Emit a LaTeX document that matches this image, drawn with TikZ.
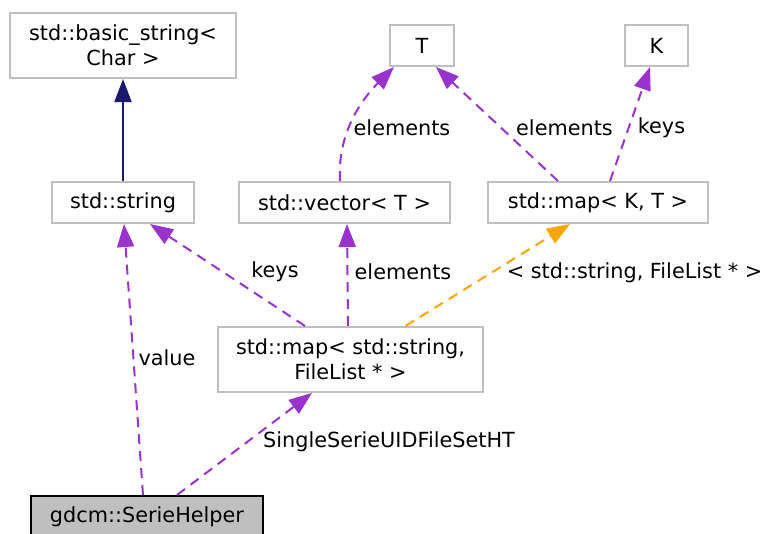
\documentclass[tikz,border=0pt]{standalone}
\usepackage{fontspec}
\setmainfont{DejaVu Sans}
\usetikzlibrary{arrows.meta, positioning}
\definecolor{boxgray}{HTML}{BFBFBF}
\definecolor{usepurple}{HTML}{9A32CD}
\definecolor{tmplorange}{HTML}{FFA500}
\definecolor{inhnavy}{HTML}{191970}

\begin{document}
\begin{tikzpicture}[x=1pt,y=-1pt,
  box/.style={draw=boxgray, line width=2pt, fill=white, inner sep=0pt, align=center,
    minimum height=41pt, font=\fontsize{20.8}{25}\selectfont},
  lbl/.style={inner sep=0pt, font=\fontsize{20.8}{25}\selectfont},
  tipstyle/.style={-{Triangle[length=23pt,width=17pt]}},
  uses/.style={tipstyle, draw=usepurple, line width=2pt, dash pattern=on 10pt off 7pt},
  tmpl/.style={tipstyle, draw=tmplorange, line width=2pt, dash pattern=on 10pt off 7pt},
  inh/.style={tipstyle, draw=inhnavy, line width=2pt}]
\useasboundingbox (0,0) rectangle (766,533);
% Kasten
\node[box, minimum width=226pt, minimum height=65pt] (basestr) at (123,45.5) {std::basic\_string<\\Char >};
\node[box, minimum width=142pt] (stdstr) at (123,202.5) {std::string};
\node[box, minimum width=211pt] (vec) at (344.5,202.5) {std::vector< T >};
\node[box, minimum width=220pt] (mapkt) at (598,202.5) {std::map< K, T >};
\node[box, minimum width=64pt] (tnode) at (422,45.5) {T};
\node[box, minimum width=63pt] (knode) at (656.5,45.5) {K};
\node[box, minimum width=265pt, minimum height=65pt] (mapsf) at (350.5,359.5) {std::map< std::string,\\FileList * >};
\node[box, draw=black, fill=boxgray, minimum width=232pt] (gdcm) at (147,516.5) {gdcm::SerieHelper};
% Pfeile
\draw[inh] (stdstr.north) -- (basestr.south);
\draw[uses] ([xshift=-45.5pt]mapsf.north) -- ([xshift=27pt]stdstr.south);
\draw[uses] ([xshift=-2.5pt]mapsf.north) -- ([xshift=2.5pt]vec.south);
\draw[tmpl] ([xshift=55pt]mapsf.north) -- ([xshift=-28pt]mapkt.south);
\draw[uses] ([xshift=-4.5pt]vec.north) .. controls +(-3,-50) and +(-30,30) .. ([xshift=5pt]tnode.south west);
\draw[uses] ([xshift=-40pt]mapkt.north) -- ([xshift=14pt]tnode.south);
\draw[uses] ([xshift=12pt]mapkt.north) -- ([xshift=-6.5pt]knode.south);
\draw[uses] ([xshift=-4pt]gdcm.north) -- ([xshift=1pt]stdstr.south);
\draw[uses] ([xshift=30pt]gdcm.north) -- ([xshift=-38.5pt]mapsf.south);
% Beschriftungen
\node[lbl] (lkeysa) at (275,272) {keys};
\node[lbl] (lelema) at (403,272) {elements};
\node[lbl] (ltmpl) at (634.5,273) {< std::string, FileList * >};
\node[lbl] (lelemb) at (402,128) {elements};
\node[lbl] (lelemc) at (564.5,128) {elements};
\node[lbl] (lkeysb) at (661.5,128) {keys};
\node[lbl] (lvalue) at (167,358) {value};
\node[lbl] (lsingle) at (389,442) {SingleSerieUIDFileSetHT};
\end{tikzpicture}
\end{document}
